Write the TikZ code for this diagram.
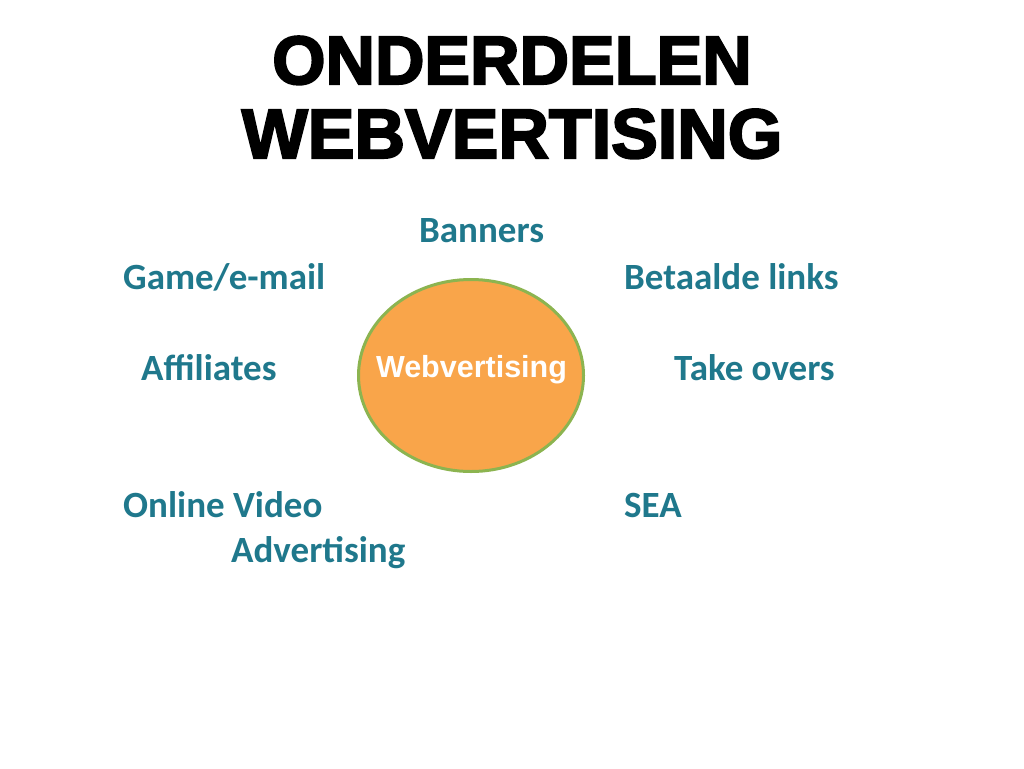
\documentclass[tikz,border=0pt]{standalone}
\usepackage{fontspec}
\setmainfont{Liberation Sans}
\newfontfamily\calib{Carlito}
\newfontfamily\titlefont[FakeBold=3]{Liberation Sans Bold}
\usetikzlibrary{shapes.geometric}
\definecolor{teal1}{RGB}{31,120,140}
\definecolor{orangefill}{RGB}{249,165,74}
\definecolor{greenline}{RGB}{140,180,80}
\tikzset{
  titletext/.style={anchor=base, inner sep=0pt, font=\titlefont\fontsize{68.5}{84}\selectfont},
  titletextb/.style={anchor=base, inner sep=0pt, font=\titlefont\fontsize{70}{84}\selectfont},
  item/.style={anchor=base west, inner sep=0pt, text=teal1, font=\calib\fontsize{37}{44}\selectfont\bfseries},
  hub/.style={ellipse, draw=greenline, line width=3pt, fill=orangefill, minimum width=225pt, minimum height=192pt, inner sep=0pt},
  hubtext/.style={anchor=base, inner sep=0pt, text=white, font=\fontsize{30.5}{36}\selectfont\bfseries}
}
\begin{document}
\begin{tikzpicture}[x=1pt,y=-1pt]
\useasboundingbox (0,0) rectangle (1024,768);
\fill[white] (0,0) rectangle (1024,768);
\node[titletext] (t1) at (512,84) {ONDERDELEN};
\node[titletextb] (t2) at (512,158) {WEBVERTISING};
\node[hub] (hub) at (471,375.5) {};
\node[hubtext] (hubt) at (471.5,377) {Webvertising};
\node[item] (banners) at (419,242) {Banners};
\node[item] (game) at (123,289) {Game/e-mail};
\node[item] (betaald) at (624,289) {Betaalde links};
\node[item] (affil) at (141,380) {Affiliates};
\node[item] (take) at (674,380) {Take overs};
\node[item] (online) at (123,517) {Online Video};
\node[item] (advert) at (231,562) {Advertising};
\node[item] (sea) at (624,517) {SEA};
\end{tikzpicture}
\end{document}
